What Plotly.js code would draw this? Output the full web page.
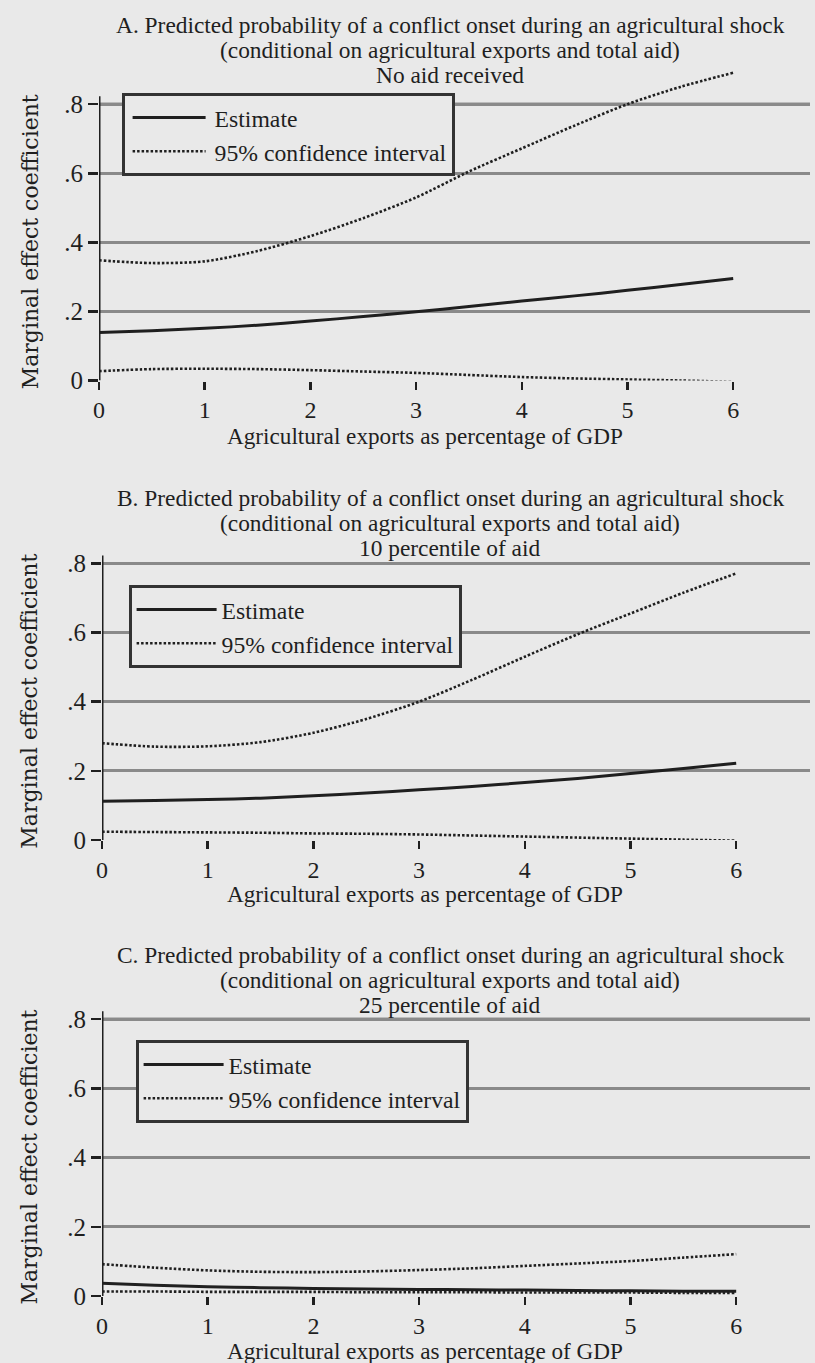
<!DOCTYPE html>
<html>
<head>
<meta charset="utf-8">
<script src="https://cdn.plot.ly/plotly-3.0.1.min.js"></script>
<style>
html,body{margin:0;padding:0;background:#e9e9e9;}
#chart{width:815px;height:1363px;}
</style>
</head>
<body>
<div id="chart"></div>
<script>
// ---------- data ----------
const xVals = [0, 0.5, 1, 1.5, 2, 2.5, 3, 3.5, 4, 4.5, 5, 5.5, 6];
const xTicks = [0, 1, 2, 3, 4, 5, 6];
const yTicks = [0, 0.2, 0.4, 0.6, 0.8];
const yTickText = ['0', '.2', '.4', '.6', '.8'];

const panelTitles = [
  ['A. Predicted probability of a conflict onset during an agricultural shock', '(conditional on agricultural exports and total aid)', 'No aid received'],
  ['B. Predicted probability of a conflict onset during an agricultural shock', '(conditional on agricultural exports and total aid)', '10 percentile of aid'],
  ['C. Predicted probability of a conflict onset during an agricultural shock', '(conditional on agricultural exports and total aid)', '25 percentile of aid']
];
const xTitle = 'Agricultural exports as percentage of GDP';
const yTitle = 'Marginal effect coefficient';
const seriesNames = ['Estimate', '95% confidence interval'];

// Panel A: no aid received
const estA   = [0.139, 0.144, 0.151, 0.160, 0.172, 0.185, 0.199, 0.214, 0.230, 0.245, 0.261, 0.278, 0.295];
const upperA = [0.348, 0.340, 0.345, 0.375, 0.418, 0.470, 0.530, 0.605, 0.672, 0.738, 0.800, 0.850, 0.891];
const lowerA = [0.027, 0.033, 0.034, 0.033, 0.030, 0.026, 0.022, 0.016, 0.010, 0.006, 0.003, 0.000, -0.004];

// Panel B: 10 percentile of aid
const estB   = [0.112, 0.114, 0.117, 0.121, 0.128, 0.136, 0.145, 0.155, 0.166, 0.178, 0.192, 0.207, 0.222];
const upperB = [0.280, 0.270, 0.271, 0.283, 0.310, 0.350, 0.400, 0.463, 0.530, 0.595, 0.655, 0.715, 0.771];
const lowerB = [0.024, 0.023, 0.022, 0.021, 0.019, 0.018, 0.016, 0.013, 0.010, 0.007, 0.004, 0.001, -0.002];

// Panel C: 25 percentile of aid
const estC   = [0.037, 0.031, 0.027, 0.024, 0.022, 0.020, 0.019, 0.018, 0.017, 0.016, 0.015, 0.014, 0.014];
const upperC = [0.092, 0.082, 0.074, 0.070, 0.069, 0.071, 0.075, 0.080, 0.087, 0.094, 0.101, 0.111, 0.121];
const lowerC = [0.013, 0.013, 0.012, 0.012, 0.012, 0.011, 0.011, 0.011, 0.010, 0.010, 0.010, 0.009, 0.009];

// ---------- styling ----------
const BG = '#e9e9e9';
const INK = '#1f1f1f';
const GRID = '#8a8a8a';
const SERIF = '"Liberation Serif", "Times New Roman", serif';
const H = 1363, W = 815;
const py = p => 1 - p / H;
const px = p => p / W;

const panels = [
  {est: estA, up: upperA, lo: lowerA, sfx: '',  leg: 'legend',  xd: [99, 810],  zero: 380.5, unit: 345.4, titleY: [25, 50, 75],    xtY: 436,  legX: 122, legY: 93},
  {est: estB, up: upperB, lo: lowerB, sfx: '2', leg: 'legend2', xd: [102, 810], zero: 840,   unit: 345.8, titleY: [498, 523, 548], xtY: 894,  legX: 129, legY: 585},
  {est: estC, up: upperC, lo: lowerC, sfx: '3', leg: 'legend3', xd: [102, 810], zero: 1296,  unit: 346,   titleY: [955, 980, 1005], xtY: 1351, legX: 136, legY: 1040}
];
const yMax = 0.9;
const xUnit = 105.7;

const traces = [];
const layout = {
  width: W, height: H,
  margin: {l: 0, r: 0, t: 0, b: 0},
  paper_bgcolor: BG, plot_bgcolor: BG,
  font: {family: SERIF, color: INK, size: 23},
  showlegend: true,
  annotations: [], shapes: []
};

panels.forEach((p, i) => {
  const xa = 'x' + p.sfx, ya = 'y' + p.sfx;
  const lineDef = {color: INK, width: 3, shape: 'spline', smoothing: 0.8};
  const dotDef = {color: INK, width: 2.6, dash: '2.5px,2px', shape: 'spline', smoothing: 0.8};
  traces.push({x: xVals, y: p.est, xaxis: xa, yaxis: ya, mode: 'lines', name: seriesNames[0],
    line: lineDef, legend: p.leg, legendgroup: 'e' + i, hoverinfo: 'skip'});
  traces.push({x: xVals, y: p.up, xaxis: xa, yaxis: ya, mode: 'lines', name: seriesNames[1],
    line: dotDef, legend: p.leg, legendgroup: 'c' + i, hoverinfo: 'skip'});
  traces.push({x: xVals, y: p.lo, xaxis: xa, yaxis: ya, mode: 'lines', name: seriesNames[1],
    line: dotDef, legend: p.leg, legendgroup: 'c' + i, showlegend: false, hoverinfo: 'skip'});

  const top = p.zero - yMax * p.unit;
  layout['xaxis' + p.sfx] = {
    domain: [px(p.xd[0]), px(p.xd[1])],
    range: [0, (p.xd[1] - p.xd[0]) / xUnit],
    anchor: ya,
    tickvals: xTicks, ticktext: xTicks.map(String),
    ticks: 'outside', ticklen: 8, tickwidth: 2.5, tickcolor: INK,
    showgrid: false, zeroline: false, showline: false,
    tickfont: {family: SERIF, size: 24, color: INK},
    fixedrange: true
  };
  layout['yaxis' + p.sfx] = {
    domain: [py(p.zero), py(top)],
    range: [0, yMax],
    anchor: xa,
    tickvals: yTicks, ticktext: yTickText,
    ticks: 'outside', ticklen: 10, tickwidth: 2.5, tickcolor: INK,
    showgrid: true, gridcolor: GRID, gridwidth: 2.8,
    zeroline: false, showline: false,
    tickfont: {family: SERIF, size: 25, color: INK},
    fixedrange: true
  };
  // dark top gridline at .8 and the y axis line
  layout.shapes.push({type: 'line', xref: xa + ' domain', yref: ya, x0: 0, x1: 1, y0: 0.8, y1: 0.8,
    line: {color: '#3a3a3a', width: 2.8}, layer: 'below'});
  layout.shapes.push({type: 'line', xref: xa, yref: ya, x0: 0, x1: 0, y0: 0, y1: 0.823,
    line: {color: INK, width: 3}});

  // panel titles
  panelTitles[i].forEach((t, k) => {
    layout.annotations.push({text: t, xref: 'paper', yref: 'paper', x: px(450), y: py(p.titleY[k]),
      xanchor: 'center', yanchor: 'middle', showarrow: false,
      font: {family: SERIF, size: 23.4, color: INK}});
  });
  // x-axis title
  layout.annotations.push({text: xTitle, xref: 'paper', yref: 'paper', x: px(425), y: py(p.xtY),
    xanchor: 'center', yanchor: 'middle', showarrow: false,
    font: {family: SERIF, size: 23.2, color: INK}});
  // y-axis title
  layout.annotations.push({text: yTitle, xref: 'paper', yref: ya, x: px(30), y: 0.4,
    xanchor: 'center', yanchor: 'middle', showarrow: false, textangle: -90,
    font: {family: '"DejaVu Serif", serif', size: 22, color: INK}});

  layout[p.leg] = {
    x: px(p.legX), y: py(p.legY), xanchor: 'left', yanchor: 'top',
    xref: 'paper', yref: 'paper',
    bgcolor: BG, bordercolor: '#333', borderwidth: 2.6,
    font: {family: SERIF, size: 23.7, color: INK},
    itemwidth: 80, tracegroupgap: 0, traceorder: 'normal'
  };
});

Plotly.newPlot('chart', traces, layout, {staticPlot: true, displayModeBar: false}).then(() => {
  // lengthen the legend line samples to match the printed key
  document.querySelectorAll('.legend .js-line').forEach(el => el.setAttribute('d', 'M8,0h73'));
});
</script>
</body>
</html>
